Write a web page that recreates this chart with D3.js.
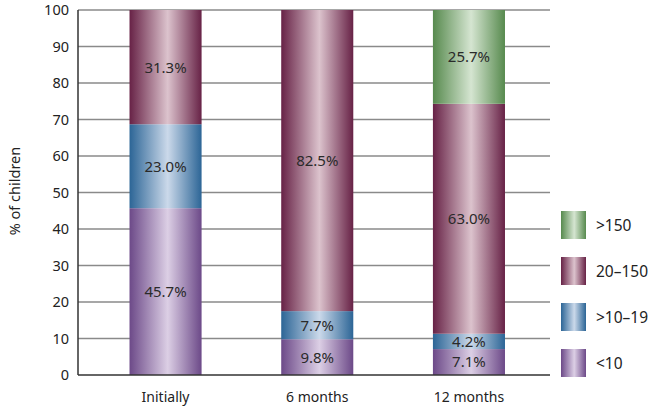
<!DOCTYPE html>
<html><head><meta charset="utf-8">
<script src="https://cdn.jsdelivr.net/npm/d3@7"></script>
<style>body{margin:0;background:#fff}svg{display:block}</style>
</head><body>
<svg id="c" width="649" height="412"></svg>
<script>
const categories = ["Initially", "6 months", "12 months"];
const seriesNames = ["<10", ">10–19", "20–150", ">150"];
const lt10 = [45.7, 9.8, 7.1];
const s10to19 = [23.0, 7.7, 4.2];
const s20to150 = [31.3, 82.5, 63.0];
const gt150 = [0, 0, 25.7];
const yTicks = [0,10,20,30,40,50,60,70,80,90,100];

const FONT = "'Noto Sans','Open Sans',sans-serif";
const seriesVals = [lt10, s10to19, s20to150, gt150];
const colors = [
  {edge:"#6c4988", mid:"#dccfe5"},
  {edge:"#2c6596", mid:"#cbd9ea"},
  {edge:"#672246", mid:"#dcc3cd"},
  {edge:"#578a4e", mid:"#d5e5d1"}
];

const svg = d3.select("#c");
const defs = svg.append("defs");
colors.forEach((c,i)=>{
  const g = defs.append("linearGradient").attr("id","g"+i).attr("x1","0%").attr("x2","100%").attr("y1","0%").attr("y2","0%");
  g.append("stop").attr("offset","0%").attr("stop-color",c.edge);
  g.append("stop").attr("offset","53%").attr("stop-color",c.mid);
  g.append("stop").attr("offset","100%").attr("stop-color",c.edge);
});

const x0 = 78, x1 = 550;
const y = d3.scaleLinear().domain([0,100]).range([375,10]);
const x = d3.scaleBand().domain(categories).range([89.7,544.8]).paddingInner(0.525).paddingOuter(0.2625);

// gridlines
svg.append("g").selectAll("line").data(yTicks.filter(t=>t>0)).join("line")
  .attr("x1",x0).attr("x2",x1).attr("y1",d=>y(d)).attr("y2",d=>y(d))
  .attr("stroke","#8a8a8a").attr("stroke-width",1.5);

// bars
const rows = categories.map((c,i)=>{
  const o = {cat:c};
  seriesNames.forEach((s,j)=>o[s]=seriesVals[j][i]);
  return o;
});
const stack = d3.stack().keys(seriesNames)(rows);
stack.forEach((layer,j)=>{
  const g = svg.append("g");
  layer.forEach((d,i)=>{
    if (d[1]-d[0] <= 0) return;
    g.append("rect").attr("x",x(categories[i])).attr("width",x.bandwidth())
      .attr("y",y(d[1])).attr("height",y(d[0])-y(d[1])).attr("fill","url(#g"+j+")");
    g.append("text").attr("x",x(categories[i])+x.bandwidth()/2).attr("y",y((d[0]+d[1])/2))
      .attr("dy","0.36em").attr("text-anchor","middle").attr("font-size",15).attr("font-family",FONT).attr("fill","#2a2a2a")
      .text(seriesVals[j][i].toFixed(1)+"%");
  });
});

// axes
const ya = svg.append("g").attr("transform",`translate(${x0},0)`)
  .call(d3.axisLeft(y).tickValues(yTicks).tickSize(0).tickPadding(9));
ya.select(".domain").remove();
ya.selectAll("text").attr("font-size",14.5).attr("fill","#222").attr("font-family",FONT);
svg.append("line").attr("x1",x0).attr("x2",x0).attr("y1",y(100)).attr("y2",y(0)).attr("stroke","#333").attr("stroke-width",1.5);
svg.append("line").attr("x1",x0).attr("x2",x1).attr("y1",y(0)).attr("y2",y(0)).attr("stroke","#333").attr("stroke-width",1.5);

const xa = svg.append("g").attr("transform",`translate(0,${y(0)})`)
  .call(d3.axisBottom(x).tickSize(0).tickPadding(17));
xa.select(".domain").remove();
xa.selectAll("text").attr("font-size",14).attr("fill","#222").attr("font-family",FONT);

svg.append("text").attr("transform","translate(20,191) rotate(-90)").attr("text-anchor","middle")
  .attr("font-size",14.5).attr("font-family",FONT).attr("fill","#222").text("% of children");

// legend
const legOrder = [3,2,1,0];
const leg = svg.append("g");
legOrder.forEach((j,k)=>{
  const yy = 211 + k*46;
  leg.append("rect").attr("x",561).attr("y",yy).attr("width",25).attr("height",28).attr("fill","url(#g"+j+")");
  leg.append("text").attr("x",596).attr("y",yy+14).attr("dy","0.36em").attr("font-size",15.5).attr("font-family",FONT).attr("fill","#222").text(seriesNames[j]);
});
</script>
</body></html>
